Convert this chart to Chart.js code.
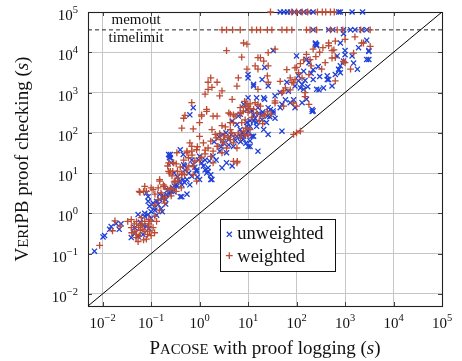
<!DOCTYPE html>
<html>
<head>
<meta charset="utf-8">
<script src="https://cdn.jsdelivr.net/npm/chart.js@4.4.1/dist/chart.umd.min.js"></script>
<style>
  html, body { margin: 0; padding: 0; background: #fff; }
  #wrap { width: 462px; height: 361px; position: relative; }
</style>
</head>
<body>
<div id="wrap"><canvas id="chart"></canvas></div>
<script>
// axis range + decade ticks (both axes log10)
const tickExponents = [-2, -1, 0, 1, 2, 3, 4, 5];
const axisMin = 0.005, axisMax = 1e5;
const timelimit = 36000, memout = 1e5;

// [pacose seconds, veripb seconds]
const unweighted = [
  [0.0068,0.115],[0.0102,0.26],[0.011,0.28],[0.014,0.4],[0.015,0.47],[0.019,0.56],[0.022,0.4],[0.024,0.55],
  [0.046,0.44],[0.039,0.25],[0.054,0.27],[0.068,0.3],[0.08,0.48],[0.074,0.85],[0.054,0.93],
  [0.087,0.93],[0.1,1.1],[0.093,1.5],[0.11,1.8],[0.087,2],[0.118,1.4],[0.14,1.65],[0.15,2.2],[0.074,1.0],[0.18,2.7],
  [0.2,2.2],[0.24,3],[0.26,3.5],[0.28,4.3],[0.33,5.1],[0.39,6.3],[0.46,6.9],[0.24,27],[0.26,18],[0.49,15],[0.49,5.8],[0.46,29],
  [0.63,280],[0.25,29],[0.25,24],[0.4,38],[0.47,16],[0.5,12],[0.74,16],[0.95,21],[0.87,12],[1.2,15],[1.3,21],[1.7,9.1],
  [1.8,6.9],[1.5,11],[1.9,26],[2.2,21],[2.6,35],[3.6,32],[2.9,13.5],[3.6,18],[4.7,15],[3.1,56],[4,68],[5,46],[5.9,82],
  [6.9,120],[8.1,82],[10,46],[11,145],[12,82],[4.7,195],[5.9,160],[9.5,180],[6.3,260],[13,280],[15,180],[1.0,6.9],
  [0.63,5.1],[0.43,2.6],[0.55,3],[0.15,3],[0.13,2],[0.19,2.6],
  [0.74,420],[10,2800],[13,1450],[10,740],[8.1,510],[9.5,380],[15,740],[6.9,290],
  [930,29000],[245,16000],[260,14500],[33,11000],[100,8100],[180,5500],[690,8100],[1000,11000],[1400,8100],[1900,13000],
  [2800,6600],[3100,11000],[930,6000],[800,4600],[740,3800],[1800,3800],[630,2800],[430,2600],[540,1450],[430,2100],
  [220,2100],[140,3400],[260,1200],[360,1300],[110,1950],[140,1200],[160,680],[130,560],[210,380],[63,1800],[93,1450],
  [46,1000],[36,830],[26,1450],[22,4200],[19.5,2100],[22,680],[50,510],[26,420],[33,350],[74,560],[93,420],[19.5,290],
  [26,91],[50,110],[16,35],[210,340],
  [10,2300],[13,1600],[21,740],[29,380],[33,310],[46,420],[59,660],[68,1070],[87,660],[120,1300],[13,195],[15,145],
  [19.5,210],[25,260],[36,230],[9.5,145],[6.9,82],[13,82],[21,120],[11,63],[11,46],
  [245,17000],[260,15500],[160,6600],[220,3700],[740,3700],[800,3100],[460,2100],[1000,8700],[1500,5400],[800,17000],
  [3100,10500],[2800,20000],[3100,6600],[220,350],[290,1170],
  [0.23,29],[0.24,24],[0.69,21],[1,26],[1.5,13.5],[1.4,10],[1.7,6.9],[0.87,11],[0.69,8.3],[0.55,6.9],[0.43,5.1],
  [0.34,4.7],[0.29,3.5],[0.4,2.6],[0.18,2.4],[0.08,3.2],[0.087,2.6],
  [2,60],[2.5,80],[3,90],[3.5,100],[4.5,90],[2.8,45],[4,50],[5.5,65],
  [11,200],[14,230],[17,300],[20,330],[24,180],[28,250],[12,350],[16,420],
  [110,2600],[130,1600],[150,2000],[170,1400],[200,3000],[280,4400],[300,2500],
  [0.12,1.2],[0.16,1.3],[0.2,1.7],[0.13,0.9],[0.22,3.8],[0.3,4.8],[0.35,8],[0.3,10],[0.21,2.9],[0.17,1.1],
  [0.045,0.32],[0.06,0.6],[0.07,0.5],[0.09,0.42],[0.1,0.75],
  [7,60],[8,70],[9,90],[10,110],[7.5,100],[9,55],
  [0.6,10],[0.8,14],[1.1,18],[1.3,12],[0.9,8],[1.6,20],
  [220,timelimit],[460,timelimit],[560,timelimit],[930,timelimit],[1300,timelimit],[1600,timelimit],[2200,timelimit],[2800,timelimit],
  [46,memout],[55,memout],[65,memout],[75,memout],[90,memout],[110,memout],[140,memout],[180,memout],[220,memout],
  [740,memout],[800,memout],[1400,memout],[2300,memout]
];

const weighted = [
  [0.0087,0.16],[0.016,0.37],[0.018,0.65],[0.023,0.48],[0.033,0.63],
  [0.039,0.44],[0.046,0.36],[0.049,0.25],[0.054,0.2],[0.08,0.23],[0.057,0.28],[0.068,0.4],[0.087,0.48],[0.093,0.36],
  [0.11,0.44],[0.1,0.63],[0.074,0.63],[0.063,0.78],[0.13,0.63],[0.118,0.33],[0.039,0.7],[0.12,0.85],[0.15,1.2],
  [0.045,0.55],[0.06,0.5],[0.07,0.22],[0.085,0.3],[0.1,0.28],[0.04,0.33],[0.05,0.62],[0.09,0.7],
  [0.057,3.5],[0.074,4.7],[0.11,3.9],[0.15,6.3],[0.18,5.1],[0.22,3.9],[0.26,2.7],[0.33,3.5],[0.14,2.2],[0.19,1.8],
  [0.28,11],[0.24,10],[0.22,15],[0.33,17],[0.36,7.6],[0.42,4.3],[0.49,9.1],
  [0.47,230],[0.43,130],[0.5,270],[0.74,125],[1.0,180],[1.1,280],[1.0,82],[1.4,340],[1.8,120],[1.9,260],[1.2,56],
  [1.3,37],[0.69,35],[0.55,32],[0.47,21],[0.23,18],[0.25,11],[0.29,18],[0.15,6.9],[0.19,4.7],[0.14,4.3],[0.12,3],
  [0.18,2.4],[0.29,3.9],[0.36,6.3],[0.43,9.1],[0.74,9.1],[0.87,6.3],[2.4,46],[2.9,32],[3.1,68],[4.3,120],[5,180],
  [5.4,260],[4,310],[5.9,18],[5,19.5],[7.4,180],[8.7,210],[6.3,100],[1.7,62],[2.1,91],[0.63,56],[0.59,24],
  [8.1,17000],[9.5,16000],[3.6,11000],[7.4,7600],[9.5,3800],[14,4600],[16,7400],[1.7,2300],[1.5,1800],[2.3,1800],
  [1.8,1350],[1.5,1200],[2.9,1100],[1.3,910],[2.6,830],[5.9,1450],[6.3,2300],[4.7,680],[0.69,560],[1.4,380],
  [1.1,260],[2.3,260],[4.3,290],[6.9,420],
  [7,300],[8,350],[9,450],[10,320],[11,400],[8.5,600],[9.5,520],
  [1600,24000],[1000,21000],[630,19000],[460,14500],[36,12000],[26,9800],[160,8900],[190,6600],[220,12000],[540,11000],
  [630,7400],[2400,17000],[1000,5500],[1300,3800],[630,1950],[330,3800],[390,5500],[180,2800],[110,3100],[100,4200],
  [93,2100],[80,1800],[150,1000],[180,510],[54,1100],[26,1800],[25,2600],[16,3800],[21,6000],[18,7400],[26,4600],
  [16,1200],[36,620],[16,510],
  [100,100],[120,110],[87,91],
  [19.5,260],[22,280],[18,460],[13,380],[10,460],[6.9,310],[5,280],[4.3,180],[8.1,110],[36,550],[50,980],[59,1300],
  [74,1170],[87,1740],[63,3700],[74,2300],[93,4100],[46,1900],[130,2300],[150,790],[87,550],[100,460],[54,460],
  [460,17000],[590,11500],[540,7200],[930,5900],[1500,9500],[2200,17000],[3300,14000],
  [2.7,68],[3.1,56],[3.6,42],[4.3,68],[5,56],[5.9,42],[2.3,46],[1.9,35],[1.7,26],[1,21],[0.87,38],[0.69,46],
  [0.55,35],[0.34,32],[0.29,18],[0.23,11],[0.1,4.3],[0.08,3.5],[0.07,3.5],[0.059,3.3],[0.18,4.7],[0.31,6.3],
  [0.43,10],[0.55,12],[0.74,15],[1.9,18],[6,19.5],
  [2.2,75],[2.6,95],[3.3,85],[3.9,78],[4.6,100],[5.2,85],[3.4,140],[2.9,150],
  [12,240],[15,300],[17,200],[20,170],[25,330],[30,290],[11,520],[14,560],
  [120,5200],[140,6500],[200,4600],[250,7800],[300,10000],[350,13000],
  [0.2,2.5],[0.25,4.2],[0.3,6],[0.35,11],[0.4,14],[0.27,8.5],[0.16,3.2],[0.12,1.6],
  [0.05,0.3],[0.055,0.45],[0.065,0.55],[0.075,0.35],[0.09,0.55],[0.06,0.38],
  [7,75],[8.5,90],[10,85],[11,120],[9,130],
  [0.6,15],[0.8,20],[1.1,25],[1.3,30],[0.9,45],[0.7,28],[1.5,42],
  [2.9,timelimit],[3.6,timelimit],[4.8,timelimit],[6.9,timelimit],[12,timelimit],[15,timelimit],[18,timelimit],
  [25,timelimit],[31,timelimit],[50,timelimit],[63,timelimit],[80,timelimit],[160,timelimit],[190,timelimit],
  [260,timelimit],[500,timelimit],[690,timelimit],[900,timelimit],[2100,timelimit],[3300,timelimit],
  [29,memout],[80,memout],[100,memout],[130,memout],[170,memout],[270,memout],[340,memout],[400,memout],[500,memout],[600,memout]
];

const diagonal = [[axisMin, axisMin], [axisMax, axisMax]];
const limitLine = [[axisMin, timelimit], [axisMax, timelimit]];

const BLUE = '#1e3fd8', RED = '#bd4a33';
const SERIF = '"Liberation Serif", "Times New Roman", serif';
const font = (px, italic) => (italic ? 'italic ' : '') + px + 'px ' + SERIF;
const pts = arr => arr.map(p => ({ x: p[0], y: p[1] }));

// draw a row of text runs (for superscripts / small caps), returns width
function drawRuns(ctx, runs, x, y, size, align) {
  let w = 0;
  runs.forEach(r => { ctx.font = font(size * (r.s || 1), r.i); r.w = ctx.measureText(r.t).width; w += r.w });
  let cx = align === 'center' ? x - w / 2 : align === 'right' ? x - w : x;
  runs.forEach(r => { ctx.font = font(size * (r.s || 1), r.i); ctx.fillText(r.t, cx, y - (r.dy || 0)); cx += r.w });
  return w;
}
const expRuns = e => [{ t: '10' }, { t: (e < 0 ? '\u2212' : '') + Math.abs(e), s: 0.7, dy: 7 }];

const decorations = {
  id: 'decorations',
  beforeDatasetsDraw(chart) {
    const { ctx, chartArea: a } = chart;
    ctx.save();
    ctx.strokeStyle = '#444'; ctx.lineWidth = 1;
    ctx.beginPath();
    tickExponents.forEach(e => {
      const px = Math.round(chart.scales.x.getPixelForValue(10 ** e)) + 0.5;
      const py = Math.round(chart.scales.y.getPixelForValue(10 ** e)) + 0.5;
      ctx.moveTo(px, a.bottom); ctx.lineTo(px, a.bottom - 4);
      ctx.moveTo(px, a.top); ctx.lineTo(px, a.top + 4);
      ctx.moveTo(a.left, py); ctx.lineTo(a.left + 4, py);
      ctx.moveTo(a.right, py); ctx.lineTo(a.right - 4, py);
    });
    ctx.stroke();
    ctx.strokeStyle = '#222'; ctx.lineWidth = 1.1;
    ctx.strokeRect(Math.round(a.left) + 0.5, Math.round(a.top) + 0.5, Math.round(a.right - a.left), Math.round(a.bottom - a.top));
    ctx.restore();
  },
  afterDraw(chart) {
    const { ctx, chartArea: a } = chart;
    const xs = chart.scales.x, ys = chart.scales.y;
    ctx.save();
    ctx.fillStyle = '#111';
    ctx.textBaseline = 'alphabetic';
    // tick labels
    tickExponents.forEach(e => {
      drawRuns(ctx, expRuns(e), xs.getPixelForValue(10 ** e), 328, 15, 'center');
      drawRuns(ctx, expRuns(e), 78, ys.getPixelForValue(10 ** e) + 8, 15, 'right');
    });
    // x title
    drawRuns(ctx, [{ t: 'P' }, { t: 'ACOSE', s: 0.78 }, { t: ' with proof logging (' }, { t: 's', i: true }, { t: ')' }],
      (a.left + a.right) / 2, 354, 19, 'center');
    // y title
    ctx.save();
    ctx.translate(28, (a.top + a.bottom) / 2);
    ctx.rotate(-Math.PI / 2);
    drawRuns(ctx, [{ t: 'V' }, { t: 'ERI', s: 0.78 }, { t: 'PB proof checking (' }, { t: 's', i: true }, { t: ')' }],
      0, 0, 19, 'center');
    ctx.restore();
    // limit labels
    const ly = ys.getPixelForValue(timelimit);
    const lx = xs.getPixelForValue(0.049);
    ctx.font = font(15);
    ctx.textAlign = 'center';
    ctx.fillText('memout', lx, ly - 6);
    ctx.fillText('timelimit', lx, ly + 12);
    ctx.textAlign = 'left';
    // legend box
    ctx.fillStyle = '#fff';
    ctx.fillRect(220.5, 219.5, 115, 52);
    ctx.strokeStyle = '#111'; ctx.lineWidth = 1;
    ctx.strokeRect(220.5, 219.5, 115, 52);
    ctx.strokeStyle = BLUE; ctx.lineWidth = 1.3;
    Chart.helpers.drawPoint(ctx, { pointStyle: 'crossRot', radius: 3.6, borderWidth: 1.3 }, 229.3, 234.3);
    ctx.strokeStyle = RED;
    Chart.helpers.drawPoint(ctx, { pointStyle: 'cross', radius: 3.4, borderWidth: 1.3 }, 229.3, 255.7);
    ctx.fillStyle = '#111';
    ctx.font = font(18.5);
    ctx.fillText('unweighted', 237.3, 239.3);
    ctx.fillText('weighted', 237.3, 261.7);
    ctx.restore();
  }
};

const decadeTicks = scale => { scale.ticks = tickExponents.map(e => ({ value: 10 ** e, major: true })); };

new Chart(document.getElementById('chart'), {
  type: 'scatter',
  data: {
    datasets: [
      { label: 'weighted', data: pts(weighted), pointStyle: 'cross', pointRadius: 3.4, borderColor: RED,
        backgroundColor: RED, pointBorderWidth: 1.3, clip: false, order: 0 },
      { label: 'unweighted', data: pts(unweighted), pointStyle: 'crossRot', pointRadius: 3.6, borderColor: BLUE,
        backgroundColor: BLUE, pointBorderWidth: 1.3, clip: false, order: 1 },
      { type: 'line', data: pts(diagonal), borderColor: '#000', borderWidth: 1, pointRadius: 0, order: 2 },
      { type: 'line', data: pts(limitLine), borderColor: '#222', borderWidth: 1, borderDash: [4, 3], pointRadius: 0, order: 2 }
    ]
  },
  options: {
    responsive: true, maintainAspectRatio: false, animation: false, events: [],
    layout: { padding: { top: 12, right: 20, left: 0, bottom: 0 } },
    plugins: { legend: { display: false }, tooltip: { enabled: false } },
    scales: {
      x: {
        type: 'logarithmic', min: axisMin, max: axisMax,
        afterBuildTicks: decadeTicks,
        afterFit: s => { s.height = 55; },
        ticks: { display: false },
        border: { display: false },
        grid: { color: '#c6c6c6', lineWidth: 1, drawTicks: false }
      },
      y: {
        type: 'logarithmic', min: axisMin, max: axisMax,
        afterBuildTicks: decadeTicks,
        afterFit: s => { s.width = 88; },
        ticks: { display: false },
        border: { display: false },
        grid: { color: '#c6c6c6', lineWidth: 1, drawTicks: false }
      }
    }
  },
  plugins: [decorations]
});
</script>
</body>
</html>
